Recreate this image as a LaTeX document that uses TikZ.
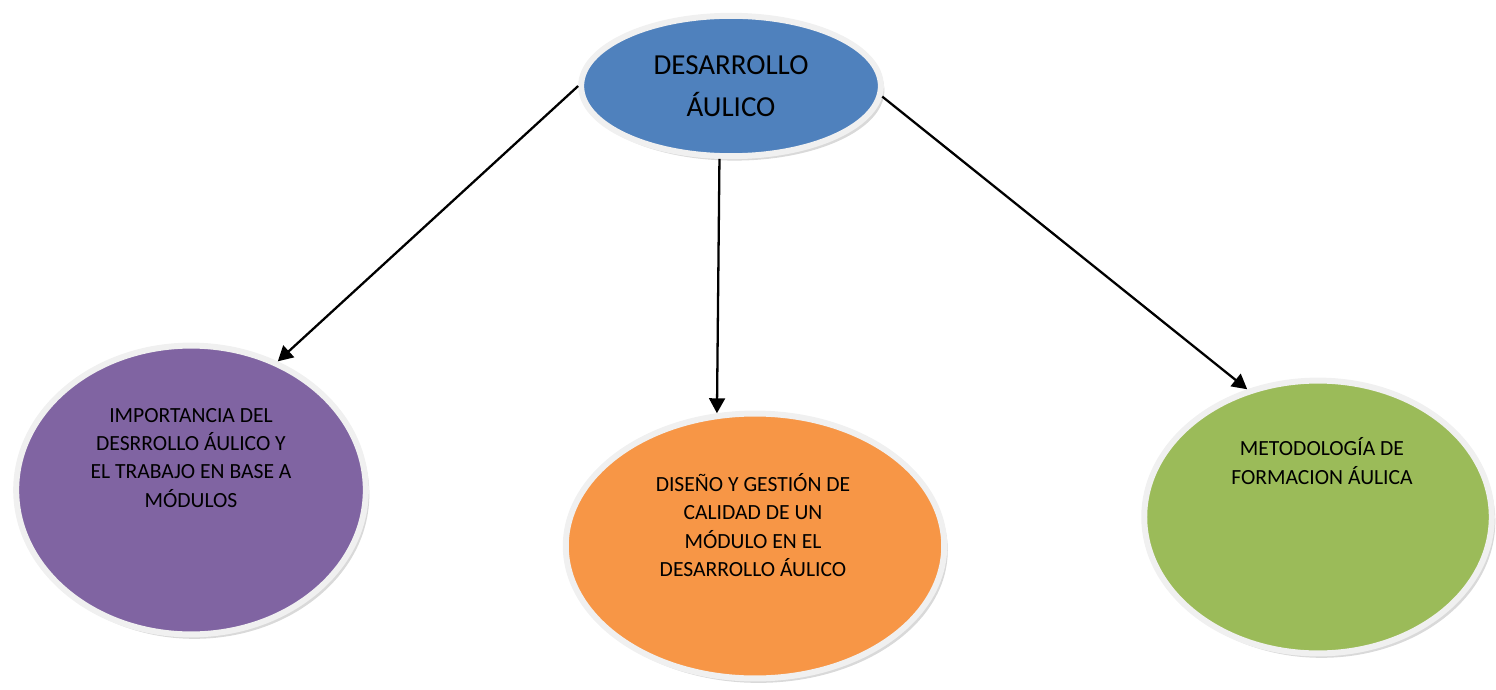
\documentclass[tikz,border=0pt]{standalone}
\usepackage{fontspec}
\setmainfont{Carlito}
\usepackage{tikz}
\usetikzlibrary{shapes.geometric, shadows, arrows.meta}

\definecolor{centblue}{HTML}{4F81BD}
\definecolor{modpurple}{HTML}{8064A2}
\definecolor{modorange}{HTML}{F79646}
\definecolor{modgreen}{HTML}{9BBB59}
\definecolor{rimgray}{HTML}{F0F0F0}

\begin{document}
\begin{tikzpicture}[x=0.02cm, y=-0.02cm,
        bubble/.style={ellipse, draw=rimgray, line width=3.4pt, inner sep=0pt,
            drop shadow={shadow xshift=2pt, shadow yshift=-2.5pt, opacity=0.3}},
        txt/.style={align=center, font=\fontsize{12.3}{16}\selectfont},
        link/.style={line width=1.3pt, -{Triangle[length=8.5pt,width=9pt]}}]
        \useasboundingbox (0,0) rectangle (1496,689);

        % ellipses
        \node[bubble, fill=centblue, minimum width=170.6pt, minimum height=79.9pt] (desarrollo) at (731,86) {};
        \node[bubble, fill=modpurple, minimum width=199pt, minimum height=164.4pt] (importancia) at (191,490) {};
        \node[bubble, fill=modorange, minimum width=215.4pt, minimum height=150.8pt] (diseno) at (755,546) {};
        \node[bubble, fill=modgreen, minimum width=197.8pt, minimum height=155.3pt] (metodologia) at (1318,517) {};

        % texts
        \node[align=center, font=\fontsize{16.5}{23.9}\selectfont] (desarrollo-t) at (731,86) {DESARROLLO\\ÁULICO};
        \node[txt] (importancia-t) at (191,458) {IMPORTANCIA DEL\\DESRROLLO ÁULICO Y\\EL TRABAJO EN BASE A\\MÓDULOS};
        \node[txt] (diseno-t) at (753,525) {DISEÑO Y GESTIÓN DE\\CALIDAD DE UN\\MÓDULO EN EL\\DESARROLLO ÁULICO};
        \node[txt] (metodologia-t) at (1322,461) {METODOLOGÍA DE\\FORMACION ÁULICA};

        % arrows
        \draw[link] (desarrollo.180) -- (importancia.56);
        \draw[link] (desarrollo.261) -- (diseno.106);
        \draw[link] (desarrollo.356) -- (metodologia.119);
    \end{tikzpicture}
\end{document}
